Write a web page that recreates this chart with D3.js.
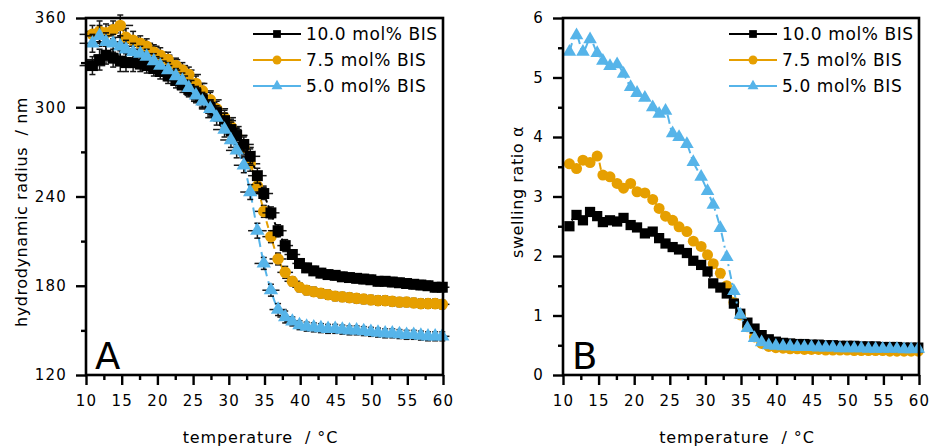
<!DOCTYPE html>
<html><head><meta charset="utf-8">
<script src="https://cdn.jsdelivr.net/npm/d3@7"></script>
<style>
html,body{margin:0;padding:0;background:#fff;}
svg{display:block;font-family:"DejaVu Sans",sans-serif;}
</style></head>
<body>
<svg id="chart" width="933" height="446"></svg>
<script>
// ---------------- DATA ----------------
const temperature = [10.9, 11.9, 12.8, 13.8, 14.8, 15.6, 16.6, 17.6, 18.5, 19.5,
  20.4, 21.5, 22.6, 23.5, 24.4, 25.4, 26.3, 27.4, 28.3, 29.4,
  30.3, 31.1, 32.1, 33.0, 34.0, 34.9, 35.9, 36.9, 37.9, 38.9,
  39.9, 40.9, 41.9, 42.9, 43.9, 44.9, 45.9, 46.9, 47.9, 48.9,
  49.9, 50.9, 51.9, 52.9, 53.9, 54.9, 55.9, 56.9, 57.9, 58.9, 59.9];

const seriesNames = ["10.0 mol% BIS", "7.5 mol% BIS", "5.0 mol% BIS"];

// hydrodynamic radius / nm (panel A)
const radius10 = [328, 332, 335, 333, 331, 330, 330, 329, 328, 326,
  324, 321, 318, 315, 312, 309, 305, 300, 296, 291,
  285, 281, 275, 267, 254, 242, 229, 217, 207, 201,
  195, 192, 190, 188.5, 187.5, 187, 186, 185.5, 185, 184.5,
  184, 183, 183, 182.5, 182, 181.5, 181, 180.5, 180, 179, 179];
const radius75 = [349, 351, 350, 352, 355, 347, 345, 343, 341, 337,
  335, 332, 328, 325, 322, 316, 311, 305, 299, 293,
  287, 281, 273, 262, 247, 230, 213, 198, 189, 183,
  179, 177, 176, 175, 174, 173, 172.5, 172, 171.5, 171,
  170.5, 170, 170, 169.5, 169, 169, 168.5, 168, 168, 168, 167.5];
const radius50 = [343, 348, 344, 343, 341, 339, 337, 336, 334, 331,
  328, 325, 321, 318, 313, 308, 304, 299, 293, 285,
  278, 271, 261, 243, 217, 195, 177, 164, 159, 156,
  153.5, 152.5, 152, 151.5, 151, 151, 150.5, 150, 150, 149.5,
  149, 148.5, 148, 148, 147.5, 147, 147, 146.5, 146, 146, 146];

// error bars (panel A): temperature error / °C, radius error / nm
const tempError = [1.8, 1.8, 1.8, 1.8, 1.8, 1.8, 1.8, 1.8, 1.8, 1.8,
  1.7, 1.7, 1.7, 1.7, 1.7, 1.6, 1.6, 1.6, 1.6, 1.6,
  1.5, 1.5, 1.4, 1.4, 1.3, 1.3, 1.2, 1.2, 1.1, 1.1,
  1.0, 1.0, 1.0, 1.0, 1.0, 1.0, 1.0, 1.0, 1.0, 1.0,
  1.0, 1.0, 1.0, 1.0, 1.0, 1.0, 1.0, 1.0, 1.0, 1.0, 1.0];
const radiusError = [6, 7, 6, 6, 7, 6, 6, 5, 5, 5,
  5, 5, 5, 5, 5, 5, 5, 5, 5, 5,
  5, 5, 5, 5, 5, 4, 4, 4, 4, 3,
  3, 3, 3, 3, 3, 3, 3, 3, 3, 3,
  3, 3, 3, 3, 3, 3, 3, 3, 3, 3, 3];

// swelling ratio alpha (panel B)
const alpha10 = [2.50, 2.69, 2.60, 2.74, 2.67, 2.57, 2.60, 2.58, 2.64, 2.52,
  2.48, 2.38, 2.41, 2.30, 2.21, 2.15, 2.11, 2.05, 1.92, 1.85,
  1.74, 1.54, 1.47, 1.37, 1.20, 1.03, 0.88, 0.78, 0.67, 0.60,
  0.56, 0.54, 0.53, 0.52, 0.52, 0.51, 0.51, 0.50, 0.50, 0.49,
  0.49, 0.49, 0.48, 0.48, 0.48, 0.47, 0.47, 0.47, 0.46, 0.46, 0.46];
const alpha75 = [3.55, 3.47, 3.61, 3.57, 3.68, 3.36, 3.33, 3.22, 3.14, 3.22,
  3.08, 3.06, 2.95, 2.80, 2.67, 2.60, 2.49, 2.41, 2.25, 2.16,
  2.02, 1.87, 1.71, 1.50, 1.22, 1.01, 0.81, 0.64, 0.53, 0.48,
  0.46, 0.45, 0.44, 0.44, 0.43, 0.43, 0.43, 0.42, 0.42, 0.42,
  0.42, 0.41, 0.41, 0.41, 0.41, 0.41, 0.40, 0.40, 0.40, 0.40, 0.40];
const alpha50 = [5.43, 5.71, 5.43, 5.64, 5.41, 5.28, 5.19, 5.22, 5.06, 4.84,
  4.74, 4.66, 4.50, 4.39, 4.44, 4.06, 4.00, 3.88, 3.58, 3.33,
  3.09, 2.86, 2.47, 1.98, 1.41, 1.01, 0.79, 0.62, 0.55, 0.50,
  0.49, 0.48, 0.48, 0.47, 0.47, 0.47, 0.46, 0.46, 0.46, 0.45,
  0.45, 0.45, 0.45, 0.44, 0.44, 0.44, 0.44, 0.44, 0.43, 0.43, 0.44];

const xTicks = [10, 15, 20, 25, 30, 35, 40, 45, 50, 55, 60];
const xMinorTicks = [12.5, 17.5, 22.5, 27.5, 32.5, 37.5, 42.5, 47.5, 52.5, 57.5];
const yTicksA = [120, 180, 240, 300, 360];
const yMinorTicksA = [150, 210, 270, 330];
const yTicksB = [0, 1, 2, 3, 4, 5, 6];
const yMinorTicksB = [0.5, 1.5, 2.5, 3.5, 4.5, 5.5];

// ---------------- STYLE ----------------
const colors = ["#000000", "#E69F00", "#56B4E9"];
const symbols = [d3.symbolSquare, d3.symbolCircle, d3.symbolTriangle];
const symSizeA = [120, 105, 90];
const symSizeB = [105, 95, 80];
const legSize = [60, 62, 52];
const dashA = ["3,3", "7,4", "10,5"];
const dashB = ["3,3", "7,4", "9,4,2,4"];
const drawOrder = [1, 0, 2]; // orange under black under blue

const svg = d3.select("#chart");

function panel(opts) {
  const x = d3.scaleLinear().domain([10, 60]).range([opts.x0, opts.x1]);
  const y = d3.scaleLinear().domain(opts.yDomain).range([375, 18]);
  const g = svg.append("g");

  const lineGen = d3.line().x(d => x(d[0])).y(d => y(d[1])).curve(d3.curveMonotoneX);

  drawOrder.forEach(si => {
    const vals = opts.series[si];
    const pts = temperature.map((t, i) => [t, vals[i]]);
    g.append("path").datum(pts)
      .attr("d", lineGen).attr("fill", "none")
      .attr("stroke", colors[si]).attr("stroke-width", 2)
      .attr("stroke-dasharray", opts.dash[si]);
    if (opts.errors) {
      const eg = g.append("g").attr("stroke", "#000").attr("stroke-width", 1.5).attr("opacity", 0.9);
      pts.forEach((p, i) => {
        const cx = x(p[0]), cy = y(p[1]);
        const xl = x(p[0] - tempError[i]), xr = x(p[0] + tempError[i]);
        const yt = y(p[1] + radiusError[i]), yb = y(p[1] - radiusError[i]);
        eg.append("line").attr("x1", xl).attr("x2", xr).attr("y1", cy).attr("y2", cy);
        eg.append("line").attr("x1", cx).attr("x2", cx).attr("y1", yt).attr("y2", yb);
        eg.append("line").attr("x1", cx - 3).attr("x2", cx + 3).attr("y1", yt).attr("y2", yt);
        eg.append("line").attr("x1", cx - 3).attr("x2", cx + 3).attr("y1", yb).attr("y2", yb);
      });
    }
    g.append("g").selectAll("path").data(pts).join("path")
      .attr("transform", d => `translate(${x(d[0])},${y(d[1])})`)
      .attr("d", d3.symbol().type(symbols[si]).size(opts.symSize[si]))
      .attr("fill", colors[si]);
  });

  // frame
  g.append("rect").attr("x", opts.x0).attr("y", 18)
    .attr("width", opts.x1 - opts.x0).attr("height", 357)
    .attr("fill", "none").attr("stroke", "#000").attr("stroke-width", 2.6);

  // x axis
  const xAxis = d3.axisBottom(x).tickValues(xTicks).tickSize(10).tickPadding(10).tickFormat(d3.format("d"));
  const xa = g.append("g").attr("transform", "translate(0,375)").call(xAxis);
  const xMin = d3.axisBottom(x).tickValues(xMinorTicks).tickSize(5).tickFormat("");
  const xm = g.append("g").attr("transform", "translate(0,375)").call(xMin);
  // y axis
  const yAxis = d3.axisLeft(y).tickValues(opts.yTicks).tickSize(10).tickPadding(9).tickFormat(d3.format("d"));
  const ya = g.append("g").attr("transform", `translate(${opts.x0},0)`).call(yAxis);
  const yMin = d3.axisLeft(y).tickValues(opts.yMinor).tickSize(5).tickFormat("");
  const ym = g.append("g").attr("transform", `translate(${opts.x0},0)`).call(yMin);
  [xa, xm, ya, ym].forEach(a => {
    a.select(".domain").remove();
    a.selectAll("line").attr("stroke", "#000").attr("stroke-width", 2.4);
    a.selectAll("text").attr("fill", "#000").style("font-size", "15px")
      .style("letter-spacing", "1.2px").style("font-family", "DejaVu Sans, sans-serif");
  });

  // axis titles
  g.append("text").attr("x", (opts.x0 + opts.x1) / 2 - 4).attr("y", 443)
    .attr("text-anchor", "middle").style("font-size", "16px").style("letter-spacing", "0.9px")
    .style("white-space", "pre").text("temperature  / °C");
  g.append("text").attr("transform", `translate(${opts.yTitleX},${opts.yTitleY}) rotate(-90)`)
    .attr("text-anchor", "middle").style("font-size", "16px").style("letter-spacing", "0.6px")
    .style("white-space", "pre").text(opts.yTitle);

  // panel letter
  g.append("text").attr("x", opts.x0 + 9).attr("y", 369)
    .style("font-size", "37px").text(opts.letter);

  // legend
  const lg = g.append("g");
  seriesNames.forEach((name, si) => {
    const ly = 34 + si * 26;
    lg.append("line").attr("x1", opts.legX).attr("x2", opts.legX + 48)
      .attr("y1", ly).attr("y2", ly).attr("stroke", colors[si]).attr("stroke-width", 2);
    lg.append("path").attr("transform", `translate(${opts.legX + 24},${ly})`)
      .attr("d", d3.symbol().type(symbols[si]).size(legSize[si])).attr("fill", colors[si]);
    lg.append("text").attr("x", opts.legX + 53).attr("y", ly + 6)
      .style("font-size", "17px").style("letter-spacing", "0.6px").text(name);
  });
}

panel({
  x0: 86, x1: 443, yDomain: [120, 360], yTicks: yTicksA, yMinor: yMinorTicksA,
  series: [radius10, radius75, radius50], errors: true, dash: dashA, symSize: symSizeA,
  yTitle: "hydrodynamic radius  / nm", yTitleX: 27, yTitleY: 212,
  letter: "A", legX: 253
});
panel({
  x0: 563, x1: 919, yDomain: [0, 6], yTicks: yTicksB, yMinor: yMinorTicksB,
  series: [alpha10, alpha75, alpha50], errors: false, dash: dashB, symSize: symSizeB,
  yTitle: "swelling ratio α", yTitleX: 523, yTitleY: 192,
  letter: "B", legX: 729
});
</script>
</body></html>
